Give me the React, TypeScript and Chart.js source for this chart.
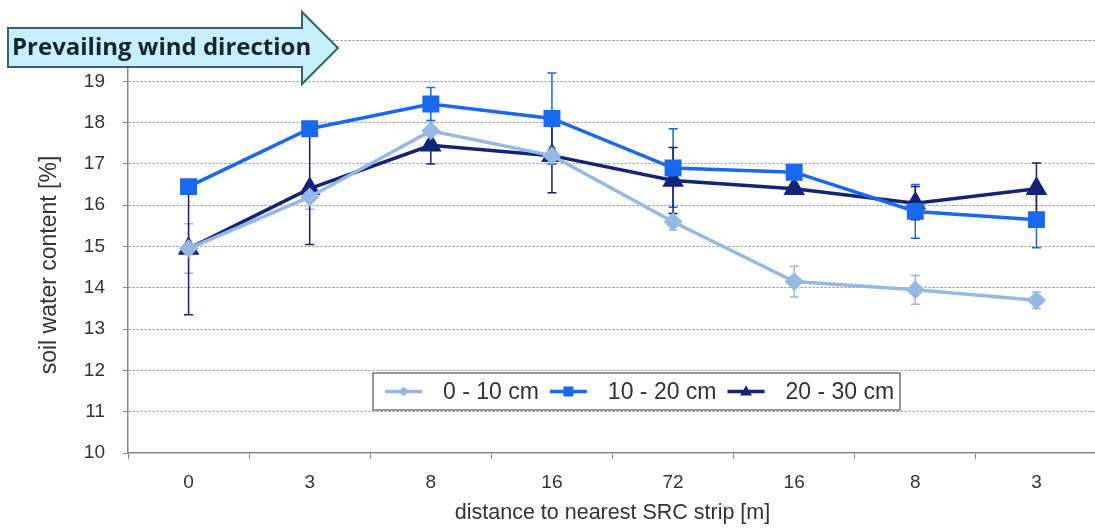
import React, { useEffect, useRef } from 'react';
import { Chart, registerables, Plugin } from 'chart.js';

Chart.register(...registerables);

// distance labels, left and right of the SRC strip
const distances = ['0', '3', '8', '16', '72', '16', '8', '3'];
const seriesLabels = ['0 - 10 cm', '10 - 20 cm', '20 - 30 cm'];

// soil water content [%]
const depth0to10 = [14.95, 16.2, 17.8, 17.2, 15.6, 14.15, 13.95, 13.7];
const depth10to20 = [16.45, 17.85, 18.45, 18.1, 16.9, 16.8, 15.85, 15.65];
const depth20to30 = [14.95, 16.4, 17.45, 17.2, 16.6, 16.4, 16.05, 16.4];

// error bar half widths
const err0to10 = [0.6, 0.3, 0.25, 0.2, 0.2, 0.37, 0.35, 0.2];
const err10to20 = [0, 0, 0.4, 1.1, 0.95, 0.1, 0.65, 0.68];
const err20to30 = [1.6, 1.35, 0.45, 0.9, 0.8, 0.1, 0.4, 0.62];

const yTicks = [10, 11, 12, 13, 14, 15, 16, 17, 18, 19, 20];

const colors = ['rgb(150,185,228)', 'rgb(24,104,240)', 'rgb(20,35,118)'];
const FONT = '"Liberation Sans", Arial, sans-serif';

const errorBars: Plugin = {
  id: 'errorBars',
  beforeDatasetsDraw(chart) {
    const ctx = chart.ctx;
    const errs = [err0to10, err10to20, err20to30];
    const y = chart.scales.y;
    chart.data.datasets.forEach((ds, i) => {
      const meta = chart.getDatasetMeta(i);
      ctx.save();
      ctx.strokeStyle = colors[i];
      ctx.lineWidth = 1.5;
      meta.data.forEach((pt, j) => {
        const e = errs[i][j];
        if (!e) return;
        const v = (ds.data as number[])[j];
        const top = y.getPixelForValue(v + e);
        const bot = y.getPixelForValue(v - e);
        ctx.beginPath();
        ctx.moveTo(pt.x, top);
        ctx.lineTo(pt.x, bot);
        ctx.moveTo(pt.x - 4.5, top);
        ctx.lineTo(pt.x + 4.5, top);
        ctx.moveTo(pt.x - 4.5, bot);
        ctx.lineTo(pt.x + 4.5, bot);
        ctx.stroke();
      });
      ctx.restore();
    });
  },
};

const decorations: Plugin = {
  id: 'decorations',
  afterDraw(chart) {
    const ctx = chart.ctx;
    const area = chart.chartArea;

    // axis titles
    ctx.save();
    ctx.fillStyle = '#333';
    ctx.textAlign = 'center';
    ctx.textBaseline = 'middle';
    ctx.font = `21.5px ${FONT}`;
    ctx.fillText('distance to nearest SRC strip [m]', (area.left + area.right) / 2, 513);
    ctx.translate(50, 265);
    ctx.rotate(-Math.PI / 2);
    ctx.font = `23px ${FONT}`;
    ctx.fillText('soil water content [%]', 0, 0);
    ctx.restore();

    // legend box inside the plot
    ctx.save();
    const lx = 373, ly = 373, lw = 527, lh = 37;
    ctx.fillStyle = '#fff';
    ctx.fillRect(lx, ly, lw, lh);
    ctx.strokeStyle = '#777';
    ctx.lineWidth = 1.5;
    ctx.strokeRect(lx, ly, lw, lh);
    ctx.font = `23px ${FONT}`;
    ctx.textBaseline = 'middle';
    let x = lx + 12;
    const cy = ly + lh / 2;
    chart.data.datasets.forEach((ds, i) => {
      ctx.strokeStyle = colors[i];
      ctx.fillStyle = colors[i];
      ctx.lineWidth = 3.5;
      ctx.beginPath();
      ctx.moveTo(x, cy);
      ctx.lineTo(x + 37, cy);
      ctx.stroke();
      ctx.beginPath();
      const mx = x + 18.5;
      if (i === 0) {
        ctx.moveTo(mx, cy - 5); ctx.lineTo(mx + 5, cy); ctx.lineTo(mx, cy + 5); ctx.lineTo(mx - 5, cy);
      } else if (i === 1) {
        ctx.rect(mx - 5, cy - 5, 10, 10);
      } else {
        ctx.moveTo(mx, cy - 6); ctx.lineTo(mx + 6, cy + 4); ctx.lineTo(mx - 6, cy + 4);
      }
      ctx.closePath();
      ctx.fill();
      ctx.fillStyle = '#333';
      const label = ds.label as string;
      ctx.fillText(label, x + 58, cy + 1);
      x += 58 + ctx.measureText(label).width + 11;
    });
    ctx.restore();

    // prevailing wind arrow
    ctx.save();
    ctx.beginPath();
    ctx.moveTo(8, 28);
    ctx.lineTo(302, 28);
    ctx.lineTo(302, 12);
    ctx.lineTo(338, 48);
    ctx.lineTo(302, 84);
    ctx.lineTo(302, 67);
    ctx.lineTo(8, 67);
    ctx.closePath();
    ctx.fillStyle = '#c6eefb';
    ctx.fill();
    ctx.strokeStyle = '#2f6470';
    ctx.lineWidth = 2;
    ctx.stroke();
    ctx.fillStyle = '#15252c';
    ctx.font = 'bold 24px "Open Sans", "Noto Sans", sans-serif';
    ctx.textBaseline = 'middle';
    ctx.fillText('Prevailing wind direction', 12, 48, 308);
    ctx.restore();
  },
};

export default function App() {
  const canvasRef = useRef<HTMLCanvasElement>(null);

  useEffect(() => {
    document.body.style.margin = '0';
    if (!canvasRef.current) return;
    const chart = new Chart(canvasRef.current, {
      type: 'line',
      data: {
        labels: distances,
        datasets: [
          {
            label: seriesLabels[0],
            data: depth0to10,
            borderColor: colors[0],
            backgroundColor: colors[0],
            borderWidth: 3.5,
            pointStyle: 'rectRot',
            pointRadius: 7,
            tension: 0,
          },
          {
            label: seriesLabels[1],
            data: depth10to20,
            borderColor: colors[1],
            backgroundColor: colors[1],
            borderWidth: 3.5,
            pointStyle: 'rect',
            pointRadius: 9.5,
            tension: 0,
          },
          {
            label: seriesLabels[2],
            data: depth20to30,
            borderColor: colors[2],
            backgroundColor: colors[2],
            borderWidth: 3.5,
            pointStyle: 'triangle',
            pointRadius: 9,
            tension: 0,
          },
        ],
      },
      options: {
        animation: false,
        responsive: false,
        layout: { padding: { top: 40, right: 7, left: 0, bottom: 0 } },
        plugins: { legend: { display: false }, tooltip: { enabled: false } },
        scales: {
          x: {
            offset: true,
            grid: { offset: true, drawOnChartArea: false, drawTicks: true, tickLength: 6, color: '#888' },
            border: { color: '#888', width: 1.5 },
            ticks: { color: '#333', font: { family: FONT, size: 19 }, padding: 12 },
            afterFit: (s) => { s.height = 75; },
          },
          y: {
            min: 10,
            max: 20,
            afterBuildTicks: (s) => { s.ticks = yTicks.map((v) => ({ value: v })); },
            grid: {
              color: (c) => (c.tick && c.tick.value === 10 ? 'rgba(0,0,0,0)' : '#8c8c8c'),
              drawTicks: true,
              tickLength: 5,
              tickColor: '#888',
              tickBorderDash: [],
            } as any,
            border: { color: '#888', width: 1.5, dash: [2, 2] },
            ticks: {
              color: '#333',
              font: { family: FONT, size: 19 },
              padding: 18,
              callback: (v) => (Number(v) === 20 ? '' : String(v)),
            },
            afterFit: (s) => { s.width = 128; },
          },
        },
      },
      plugins: [errorBars, decorations],
    });
    return () => chart.destroy();
  }, []);

  return (
    <div style={{ position: 'fixed', left: 0, top: 0, width: 1095, height: 528, overflow: 'hidden', background: '#fff' }}>
      <canvas ref={canvasRef} width={1110} height={528} style={{ width: 1110, height: 528 }} />
    </div>
  );
}
